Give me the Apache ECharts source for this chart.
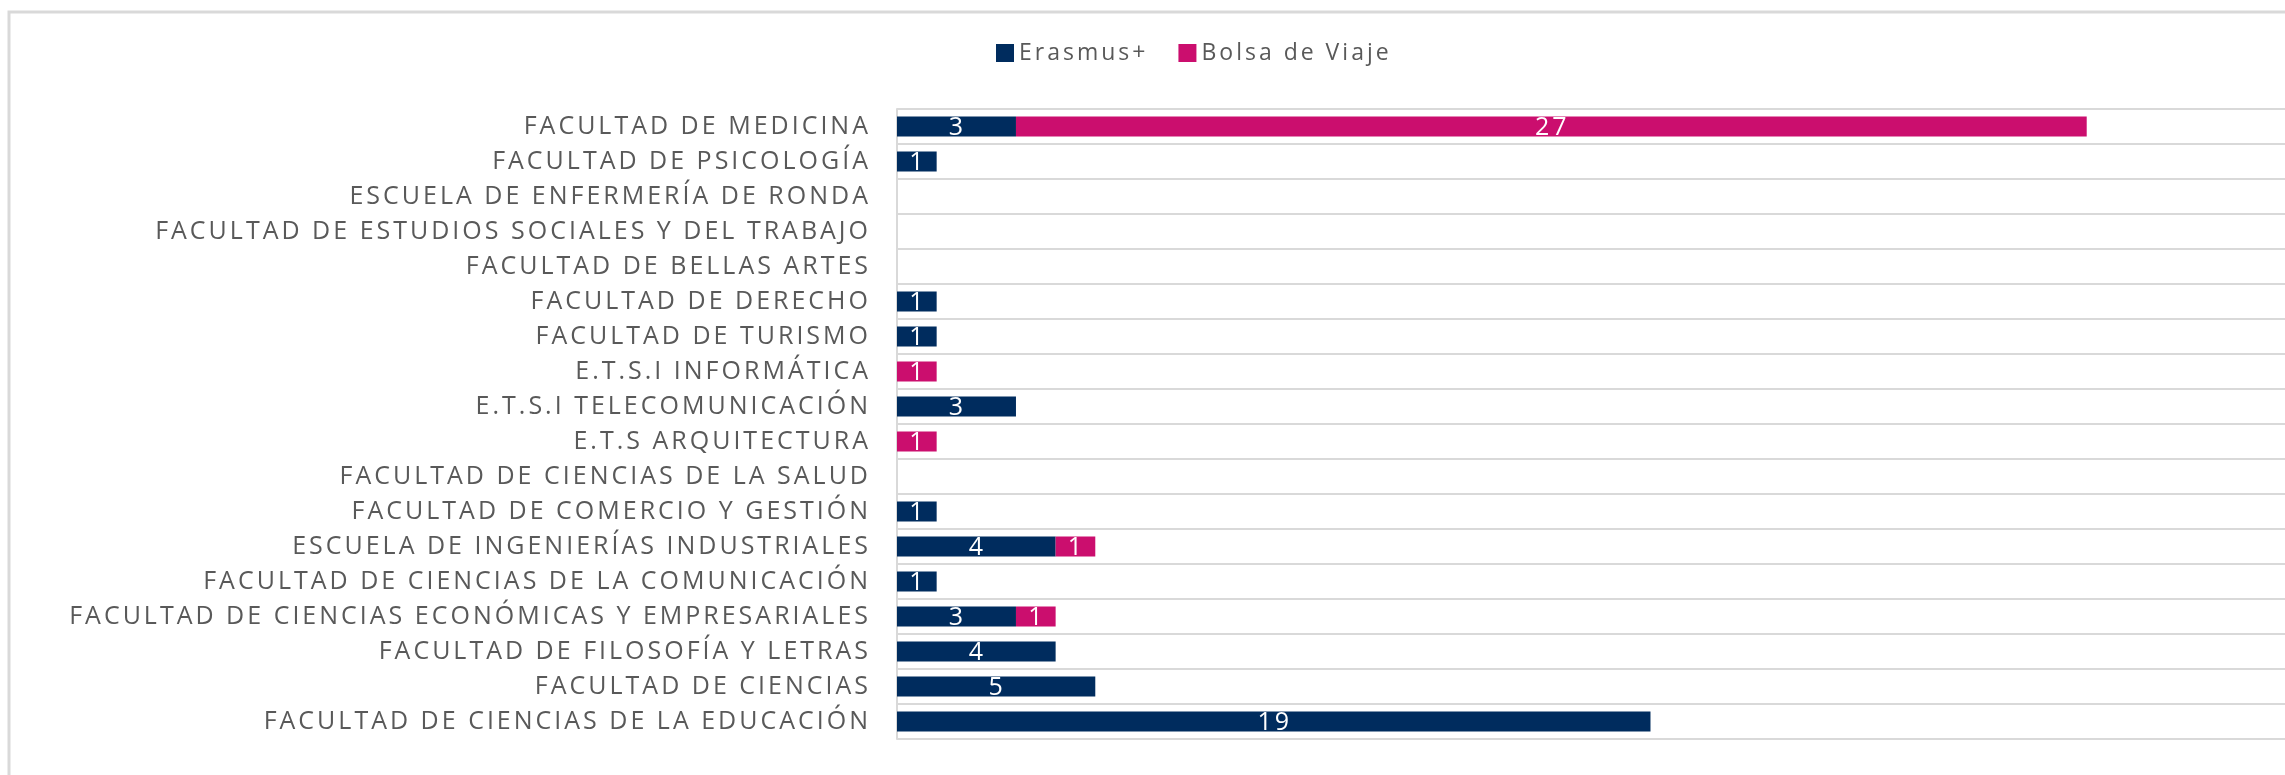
<!DOCTYPE html>
<html>
<head>
<meta charset="utf-8">
<script src="https://cdn.jsdelivr.net/npm/echarts@6/dist/echarts.min.js"></script>
<style>
  html, body { margin: 0; padding: 0; background: #fff; }
  #chart { width: 2285px; height: 775px; }
</style>
</head>
<body>
<div id="chart"></div>
<script>
// categories, top to bottom
const facultades = [
  "FACULTAD DE MEDICINA",
  "FACULTAD DE PSICOLOGÍA",
  "ESCUELA DE ENFERMERÍA DE RONDA",
  "FACULTAD DE ESTUDIOS SOCIALES Y DEL TRABAJO",
  "FACULTAD DE BELLAS ARTES",
  "FACULTAD DE DERECHO",
  "FACULTAD DE TURISMO",
  "E.T.S.I INFORMÁTICA",
  "E.T.S.I TELECOMUNICACIÓN",
  "E.T.S ARQUITECTURA",
  "FACULTAD DE CIENCIAS DE LA SALUD",
  "FACULTAD DE COMERCIO Y GESTIÓN",
  "ESCUELA DE INGENIERÍAS INDUSTRIALES",
  "FACULTAD DE CIENCIAS DE LA COMUNICACIÓN",
  "FACULTAD DE CIENCIAS ECONÓMICAS Y EMPRESARIALES",
  "FACULTAD DE FILOSOFÍA Y LETRAS",
  "FACULTAD DE CIENCIAS",
  "FACULTAD DE CIENCIAS DE LA EDUCACIÓN"
];
const erasmus = [3, 1, null, null, null, 1, 1, null, 3, null, null, 1, 4, 1, 3, 4, 5, 19];
const bolsaViaje = [27, null, null, null, null, null, null, 1, null, 1, null, null, 1, null, 1, null, null, null];

const colorErasmus = "#002C5E";
const colorBolsa = "#CB0E6E";
const gris = "#595959";

// Excel-like letter spacing: every 2d context gets it (measuring too)
const ESPACIADO = "3px";
const origGetContext = HTMLCanvasElement.prototype.getContext;
HTMLCanvasElement.prototype.getContext = function (type, opts) {
  const ctx = origGetContext.call(this, type, opts);
  if (ctx && type === "2d" && "letterSpacing" in ctx) ctx.letterSpacing = ESPACIADO;
  return ctx;
};

var myChart = echarts.init(document.getElementById("chart"));

const etiqueta = {
  show: true,
  position: "inside",
  offset: [1, 1],
  color: "#fff",
  fontSize: 25,
  fontFamily: "Open Sans"
};

myChart.setOption({
  animation: false,
  backgroundColor: "#fff",
  textStyle: { fontFamily: "Open Sans" },
  graphic: [
    {
      type: "rect",
      shape: { x: 9, y: 12, width: 2400, height: 800 },
      style: { fill: "none", stroke: "#d9d9d9", lineWidth: 3 },
      silent: true
    }
  ],
  legend: {
    left: 991,
    top: 35,
    itemWidth: 18,
    itemHeight: 18,
    itemGap: 30,
    icon: "rect",
    textStyle: { color: gris, fontSize: 23, fontFamily: "Open Sans" },
    data: ["Erasmus+", "Bolsa de Viaje"]
  },
  grid: {
    left: 897,
    top: 109,
    width: 1400,
    height: 630
  },
  xAxis: {
    type: "value",
    min: 0,
    max: 35,
    interval: 5,
    axisLabel: { show: false },
    axisLine: { show: false },
    axisTick: { show: false },
    splitLine: { show: false }
  },
  yAxis: {
    type: "category",
    inverse: true,
    data: facultades,
    axisLine: { show: true, lineStyle: { color: "#d9d9d9", width: 2 } },
    axisTick: { show: false },
    splitLine: { show: true, lineStyle: { color: "#d9d9d9", width: 2 } },
    axisLabel: {
      color: gris,
      fontSize: 25,
      fontFamily: "Open Sans",
      margin: 26,
      interval: 0
    }
  },
  series: [
    {
      name: "Erasmus+",
      type: "bar",
      stack: "total",
      barWidth: 20,
      itemStyle: { color: colorErasmus },
      label: etiqueta,
      data: erasmus
    },
    {
      name: "Bolsa de Viaje",
      type: "bar",
      stack: "total",
      barWidth: 20,
      itemStyle: { color: colorBolsa },
      label: etiqueta,
      data: bolsaViaje
    }
  ]
});
</script>
</body>
</html>
